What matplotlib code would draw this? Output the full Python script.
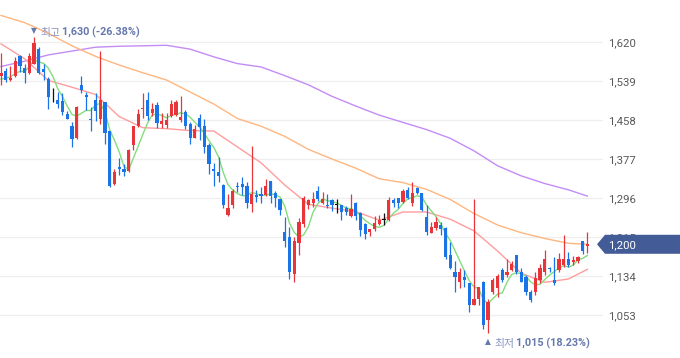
import numpy as np
import pandas as pd
import matplotlib
matplotlib.use("Agg")
import matplotlib.pyplot as plt
from matplotlib.patches import Polygon
from matplotlib.transforms import blended_transform_factory
from matplotlib.ticker import FuncFormatter

plt.rcParams['font.family'] = ['Roboto', 'Noto Sans CJK KR', 'DejaVu Sans']

# daily candles, oldest first
opens = [1549, 1560, 1541, 1549, 1591, 1566, 1556, 1575, 1605, 1563,
         1544, 1503, 1499, 1497, 1471, 1446, 1420, 1530, 1510, 1461,
         1499, 1461, 1496, 1435, 1326, 1361, 1356, 1352, 1406, 1445,
         1480, 1499, 1472, 1490, 1449, 1448, 1467, 1468, 1458, 1474,
         1449, 1421, 1462, 1445, 1407, 1357, 1350, 1324, 1260, 1281,
         1321, 1325, 1321, 1283, 1302, 1305, 1302, 1331, 1306, 1293,
         1226, 1216, 1138, 1202, 1242, 1281, 1285, 1311, 1285, 1282,
         1292, 1281, 1281, 1275, 1258, 1286, 1265, 1242, 1226, 1231,
         1242, 1250, 1250, 1292, 1296, 1287, 1312, 1285, 1316, 1306,
         1257, 1224, 1234, 1241, 1233, 1177, 1143, 1122, 1132, 1119,
         1075, 1087, 1121, 1042, 1100, 1109, 1146, 1136, 1146, 1177,
         1143, 1132, 1101, 1101, 1125, 1143, 1151, 1125, 1146, 1157,
         1170, 1163, 1165, 1206, 1197]
highs = [1598, 1566, 1569, 1589, 1593, 1574, 1597, 1630, 1610, 1574,
         1547, 1524, 1516, 1514, 1477, 1454, 1486, 1549, 1516, 1485,
         1513, 1601, 1496, 1435, 1356, 1379, 1366, 1397, 1446, 1481,
         1513, 1516, 1493, 1495, 1472, 1473, 1499, 1499, 1508, 1479,
         1453, 1447, 1470, 1461, 1410, 1368, 1381, 1325, 1304, 1314,
         1330, 1339, 1329, 1404, 1312, 1319, 1335, 1331, 1311, 1293,
         1256, 1235, 1215, 1254, 1300, 1295, 1309, 1320, 1309, 1305,
         1294, 1294, 1281, 1280, 1305, 1288, 1267, 1244, 1231, 1258,
         1260, 1265, 1298, 1297, 1296, 1314, 1319, 1330, 1319, 1306,
         1282, 1246, 1257, 1246, 1236, 1205, 1165, 1150, 1146, 1119,
         1295, 1112, 1123, 1087, 1130, 1138, 1150, 1170, 1165, 1177,
         1150, 1136, 1105, 1143, 1160, 1188, 1153, 1174, 1181, 1220,
         1184, 1176, 1176, 1206, 1226]
lows = [1530, 1537, 1539, 1548, 1558, 1535, 1553, 1574, 1553, 1541,
        1481, 1495, 1483, 1468, 1459, 1401, 1419, 1513, 1478, 1435,
        1456, 1449, 1409, 1319, 1324, 1343, 1341, 1351, 1395, 1444,
        1462, 1458, 1467, 1441, 1441, 1442, 1465, 1467, 1454, 1439,
        1409, 1420, 1416, 1390, 1345, 1321, 1329, 1276, 1259, 1276,
        1309, 1302, 1275, 1266, 1288, 1285, 1300, 1285, 1278, 1260,
        1195, 1127, 1121, 1177, 1235, 1274, 1278, 1290, 1283, 1276,
        1270, 1265, 1251, 1260, 1256, 1250, 1217, 1210, 1218, 1228,
        1240, 1241, 1249, 1278, 1276, 1285, 1293, 1280, 1304, 1270,
        1220, 1223, 1229, 1219, 1170, 1148, 1101, 1109, 1112, 1060,
        1073, 1073, 1025, 1015, 1096, 1091, 1121, 1132, 1144, 1139,
        1121, 1094, 1080, 1094, 1119, 1136, 1143, 1115, 1143, 1153,
        1153, 1157, 1162, 1179, 1181]
closes = [1556, 1542, 1546, 1580, 1570, 1556, 1591, 1618, 1556, 1557,
          1506, 1503, 1492, 1475, 1460, 1418, 1485, 1521, 1506, 1458,
          1477, 1499, 1432, 1321, 1350, 1356, 1350, 1395, 1445, 1470,
          1482, 1467, 1481, 1451, 1456, 1457, 1491, 1495, 1465, 1446,
          1421, 1440, 1443, 1402, 1367, 1353, 1342, 1282, 1275, 1310,
          1318, 1318, 1286, 1305, 1298, 1300, 1321, 1300, 1297, 1272,
          1207, 1143, 1206, 1246, 1296, 1292, 1294, 1293, 1295, 1279,
          1282, 1281, 1267, 1266, 1274, 1259, 1229, 1221, 1231, 1245,
          1250, 1250, 1292, 1286, 1285, 1311, 1296, 1306, 1306, 1272,
          1226, 1236, 1247, 1231, 1174, 1150, 1132, 1143, 1125, 1073,
          1086, 1112, 1032, 1080, 1125, 1134, 1125, 1143, 1160, 1143,
          1122, 1101, 1084, 1129, 1150, 1170, 1148, 1119, 1170, 1170,
          1157, 1167, 1174, 1186, 1200]
# closes just before the visible window (feed the 5-day average)
lead_closes = [1530, 1535, 1545, 1548]

# longer moving averages every 5 sessions
ma_idx = [0, 5, 10, 15, 20, 25, 30, 35, 40, 45, 50, 55, 60,
          65, 70, 75, 80, 85, 90, 95, 100, 105, 110, 115, 120, 124]
ma20 = [1616, 1585, 1540, 1526, 1511, 1465, 1442, 1440, 1436, 1435, 1402, 1369, 1323,
        1283, 1275, 1268, 1250, 1267, 1267, 1252, 1228, 1186, 1140, 1121, 1128, 1148]
ma60 = [1675, 1660, 1638, 1612, 1590, 1572, 1556, 1541, 1516, 1491, 1461, 1445, 1424,
        1397, 1377, 1358, 1336, 1328, 1314, 1293, 1264, 1240, 1224, 1212, 1202, 1200]
ma120 = [1569, 1580, 1593, 1601, 1609, 1611, 1612, 1613, 1605, 1589, 1575, 1568, 1550,
         1531, 1507, 1487, 1468, 1453, 1438, 1420, 1394, 1363, 1342, 1326, 1313, 1300]

y_ticks = [1053, 1134, 1215, 1296, 1377, 1458, 1539, 1620]

UP, DOWN, FLAT = '#e9343a', '#1a74e8', '#111111'

fig = plt.figure(figsize=(6.8, 3.58), dpi=100)
ax = fig.add_axes([0, 0, 603 / 680, 1])
ax.set_xlim(-0.21, 127.3)
ax.set_ylim(964, 1707)
for s in ax.spines.values():
    s.set_visible(False)
ax.set_xticks([])
ax.set_yticks(y_ticks)
ax.yaxis.tick_right()
ax.tick_params(axis='y', length=0, pad=3.6, labelsize=8.2, labelcolor='#595959')
ax.yaxis.set_major_formatter(FuncFormatter(lambda v, p: f'{v:,.0f}'))
ax.set_axisbelow(True)
ax.grid(axis='y', color='#eeeeee', lw=0.9)

# moving averages
ma5 = pd.Series(lead_closes + closes).rolling(5).mean().iloc[len(lead_closes):].to_numpy()
idx = np.arange(len(closes))
ax.plot(ma_idx, ma120, color='#c38cf6', lw=1.0, zorder=2)
ax.plot(ma_idx, ma60, color='#ffb67e', lw=1.0, zorder=2)
ax.plot(ma_idx, ma20, color='#ff9d9d', lw=1.0, zorder=2)
ax.plot(idx, ma5, color='#84dd7c', lw=1.0, zorder=2)

# candles
o = np.array(opens); c = np.array(closes)
cols = np.where(c > o, UP, np.where(c < o, DOWN, FLAT))
ax.vlines(idx, lows, highs, colors=cols, lw=0.9, zorder=3)
body_lo = np.minimum(o, c)
body_h = np.maximum(np.abs(c - o), 1.6)
ax.bar(idx, body_h, bottom=body_lo, width=0.68, color=cols, linewidth=0, zorder=4)

# current price badge
last = closes[-1]
blend = blended_transform_factory(fig.transFigure, ax.transData)
hh = 9.5 * 743 / 358
ax.add_patch(Polygon([(597 / 680, last), (605 / 680, last + hh), (1, last + hh),
                      (1, last - hh), (605 / 680, last - hh)], closed=True,
                     transform=blend, facecolor='#435b97', edgecolor='none',
                     clip_on=False, zorder=10))
ax.text(608 / 680, last, f'{last:,}', transform=blend, color='white', fontsize=8.2,
        ha='left', va='center_baseline', zorder=11, clip_on=False)

# high / low notes
imax = int(np.argmax(highs)); hmax = highs[imax]
imin = int(np.argmin(lows)); lmin = lows[imin]
num_col, word_col = '#6679ad', '#8793c2'

ax.annotate('▼', xy=(imax, hmax), xytext=(0, 4), textcoords='offset pixels',
            ha='center', va='baseline', fontsize=5.5, color=num_col, family='DejaVu Sans')
w = ax.annotate('최고', xy=(imax, hmax), xytext=(6, 1.5), textcoords='offset pixels',
                ha='left', va='baseline', fontsize=7.8, color=word_col)
ax.annotate(f'{hmax:,} ({(last - hmax) / hmax * 100:.2f}%)', xy=(1, 0), xycoords=w,
            xytext=(2, 0), textcoords='offset pixels', ha='left', va='bottom',
            fontsize=7.8, fontweight='bold', color=num_col)

ax.annotate('▲', xy=(imin, lmin), xytext=(0, -11), textcoords='offset pixels',
            ha='center', va='baseline', fontsize=5.5, color=num_col, family='DejaVu Sans')
w = ax.annotate('최저', xy=(imin, lmin), xytext=(6, -13.5), textcoords='offset pixels',
                ha='left', va='baseline', fontsize=7.8, color=word_col)
ax.annotate(f'{lmin:,} ({(last - lmin) / lmin * 100:.2f}%)', xy=(1, 0), xycoords=w,
            xytext=(2, 0), textcoords='offset pixels', ha='left', va='bottom',
            fontsize=7.8, fontweight='bold', color=num_col)

fig.savefig('out.png', dpi=100)
